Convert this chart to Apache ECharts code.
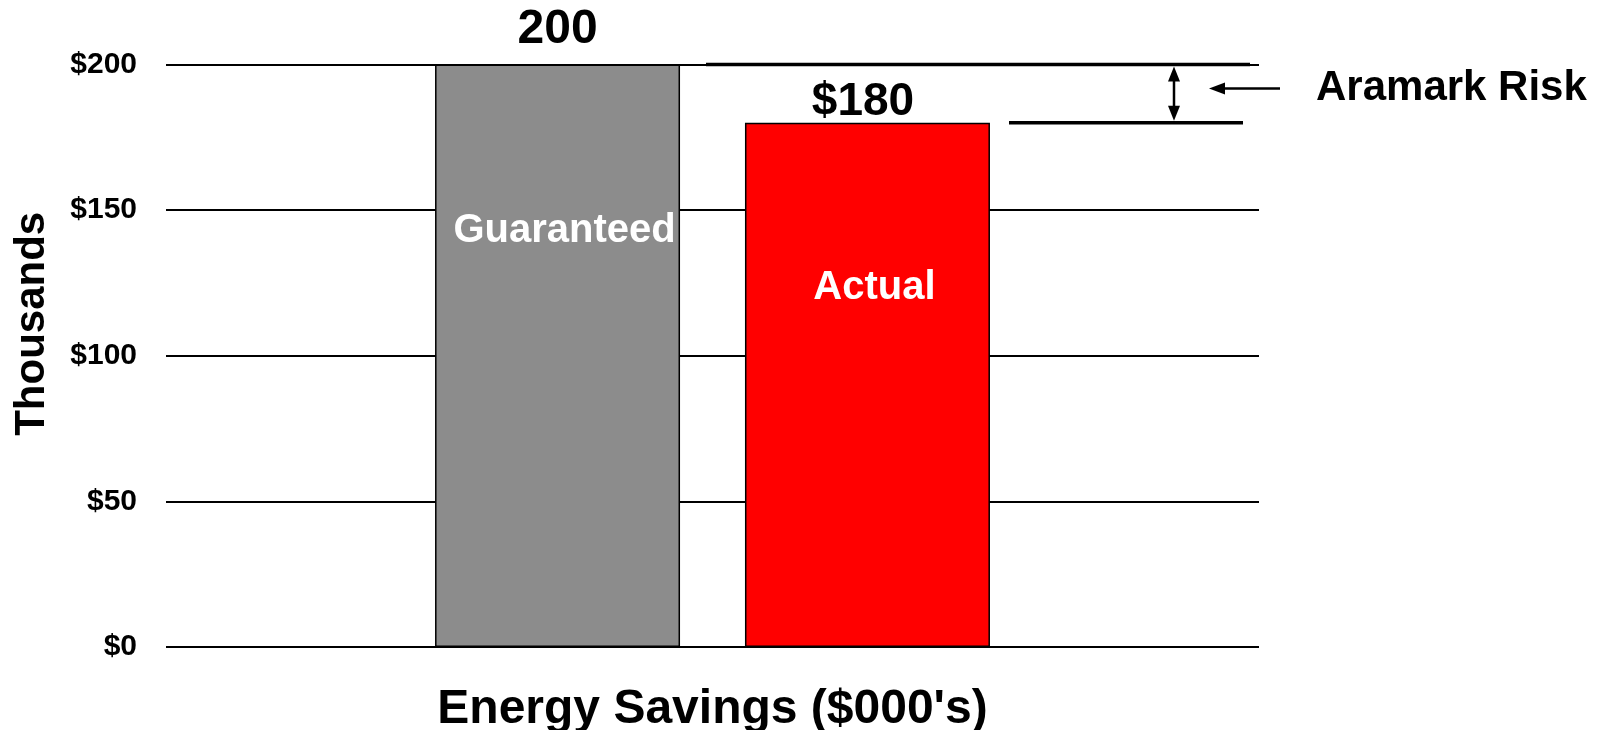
<!DOCTYPE html>
<html>
<head>
<meta charset="utf-8">
<script src="https://cdn.jsdelivr.net/npm/echarts@6/dist/echarts.min.js"></script>
<style>
html,body{margin:0;padding:0;background:#fff;}
#c{width:1608px;height:730px;}
</style>
</head>
<body>
<div id="c"></div>
<script>
// ---- data ----
const categories = ["Energy Savings ($000's)"];
const seriesNames = ["Guaranteed", "Actual"];
const guaranteed = [200];
const actual = [180];
const valueLabels = ["200", "$180"];
const yTicks = [0, 50, 100, 150, 200];
const axisTitleY = "Thousands";
const riskLabel = "Aramark Risk";

const FONT = "'Liberation Sans', Arial, Helvetica, sans-serif";
const chart = echarts.init(document.getElementById('c'), null, {renderer: 'canvas'});

function makeLabel(idx, dy, spacer, vSize, vPad) {
  return {
    show: true,
    position: 'insideTop',
    distance: 0,
    offset: [0, dy],
    fontFamily: FONT,
    formatter: function () {
      return '{v|' + valueLabels[idx] + '}\n{s| }\n{n|' + seriesNames[idx] + '}';
    },
    rich: {
      v: {fontSize: vSize, fontWeight: 'bold', color: '#000', lineHeight: 50, fontFamily: FONT, padding: vPad},
      s: {fontSize: 4, lineHeight: spacer},
      n: {fontSize: 40, fontWeight: 'bold', color: '#fff', lineHeight: 42, fontFamily: FONT, padding: [0, 0, 0, 14]}
    }
  };
}

chart.setOption({
  animation: false,
  backgroundColor: '#fff',
  grid: {left: 166, right: 349, top: 64.6, bottom: 83, containLabel: false, outerBoundsMode: 'none'},
  xAxis: {
    type: 'category',
    data: categories,
    axisLine: {show: false},
    axisTick: {show: false},
    axisLabel: {
      fontFamily: FONT, fontSize: 48, fontWeight: 'bold', color: '#000',
      margin: 39, lineHeight: 48
    }
  },
  yAxis: {
    type: 'value',
    min: yTicks[0],
    max: yTicks[yTicks.length - 1],
    interval: yTicks[1] - yTicks[0],
    name: axisTitleY,
    nameLocation: 'middle',
    nameRotate: 90,
    nameGap: 113,
    nameTextStyle: {fontFamily: FONT, fontSize: 42, fontWeight: 'bold', color: '#000', padding: [0, 0, 0, 64]},
    axisLine: {show: false},
    axisTick: {show: false},
    axisLabel: {
      fontFamily: FONT, fontSize: 30, fontWeight: 'bold', color: '#000', margin: 29,
      formatter: function (v) { return '$' + v; }
    },
    splitLine: {show: true, lineStyle: {color: '#000', width: 2}}
  },
  series: [
    {
      name: seriesNames[0],
      type: 'bar',
      data: guaranteed,
      barWidth: 245,
      barGap: '26.5%',
      itemStyle: {color: '#8c8c8c', borderColor: '#000', borderWidth: 1.5},
      label: makeLabel(0, -60, 155, 48, [0, 0, 0, 0])
    },
    {
      name: seriesNames[1],
      type: 'bar',
      data: actual,
      barWidth: 245,
      barGap: '26.5%',
      itemStyle: {color: '#ff0000', borderColor: '#000', borderWidth: 1.5},
      label: makeLabel(1, -45.5, 139.5, 46, [0, 9, 0, 0])
    }
  ]
});

// ---- risk annotation (y positions from the value scale) ----
const yG = chart.convertToPixel({yAxisIndex: 0}, guaranteed[0]);
const yA = chart.convertToPixel({yAxisIndex: 0}, actual[0]);
const xArrow = 1174;
const yMid = yG + 0.41 * (yA - yG);
const head = 15, half = 6;

chart.setOption({
  graphic: [
    {type: 'line', shape: {x1: 706, y1: yG, x2: 1250, y2: yG}, style: {stroke: '#000', lineWidth: 3.5}, z: 100},
    {type: 'line', shape: {x1: 1009, y1: yA, x2: 1243, y2: yA}, style: {stroke: '#000', lineWidth: 3.5}, z: 100},
    {type: 'line', shape: {x1: xArrow, y1: yG + head, x2: xArrow, y2: yA - head}, style: {stroke: '#000', lineWidth: 2.5}, z: 100},
    {type: 'polygon', shape: {points: [[xArrow, yG + 2], [xArrow - half, yG + 2 + head], [xArrow + half, yG + 2 + head]]}, style: {fill: '#000'}, z: 100},
    {type: 'polygon', shape: {points: [[xArrow, yA - 2], [xArrow - half, yA - 2 - head], [xArrow + half, yA - 2 - head]]}, style: {fill: '#000'}, z: 100},
    {type: 'line', shape: {x1: 1222, y1: yMid, x2: 1280, y2: yMid}, style: {stroke: '#000', lineWidth: 2.5}, z: 100},
    {type: 'polygon', shape: {points: [[1209, yMid], [1225, yMid - half], [1225, yMid + half]]}, style: {fill: '#000'}, z: 100},
    {type: 'text', x: 1316, y: yMid, style: {text: riskLabel, font: 'bold 42px ' + FONT, fill: '#000', textVerticalAlign: 'middle', textAlign: 'left'}, z: 100}
  ]
});
</script>
</body>
</html>
